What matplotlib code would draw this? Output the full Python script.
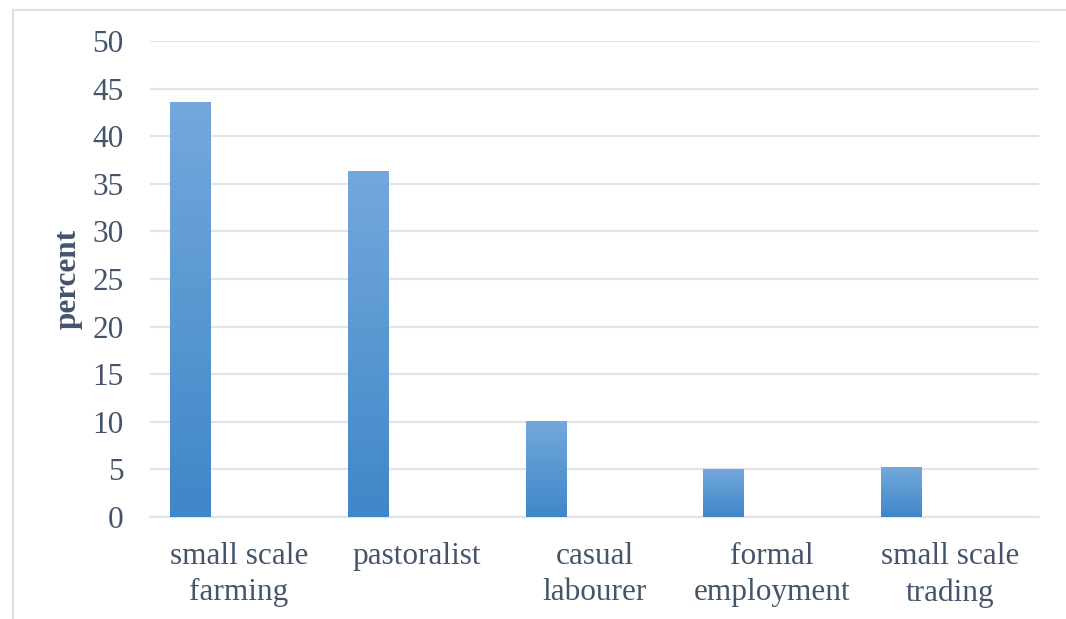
import numpy as np
import matplotlib.pyplot as plt
from matplotlib.colors import LinearSegmentedColormap
from matplotlib.lines import Line2D

categories = ['small scale\nfarming', 'pastoralist', 'casual\nlabourer',
              'formal\nemployment', 'small scale\ntrading']
values = [43.6, 36.3, 10.1, 5.05, 5.25]
yticks = [0, 5, 10, 15, 20, 25, 30, 35, 40, 45, 50]

text_color = '#44546a'
grid_color = '#e1e4e9'

plt.rcParams['font.family'] = ['Liberation Serif', 'DejaVu Serif']

fig = plt.figure(figsize=(10.66, 6.19), dpi=100)
ax = fig.add_axes([150 / 1066, 1 - 517 / 619, 889 / 1066, 476 / 619])

x = np.arange(len(categories))
# bars sit in the left part of each category slot (empty second series)
bars = ax.bar(x - 0.275, values, width=0.225, color='#5799d4', zorder=2)

# vertical gradient on each bar, lighter at top
cmap = LinearSegmentedColormap.from_list('bluegrad', ['#3f87c8', '#74a8dc'])
grad = np.linspace(0, 1, 256).reshape(-1, 1)
for b in bars:
    x0, y0 = b.get_x(), b.get_y()
    im = ax.imshow(grad, cmap=cmap, origin='lower', aspect='auto',
                   extent=(x0, x0 + b.get_width(), y0, y0 + b.get_height()),
                   zorder=3)
    im.set_clip_path(b)

ax.set_xlim(-0.5, len(categories) - 0.5)
ax.set_ylim(0, 50)
ax.set_yticks(yticks)
ax.set_xticks(x)
ax.set_xticklabels(categories, linespacing=1.33)

ax.grid(axis='y', color=grid_color, linewidth=1.6, zorder=0)
ax.set_axisbelow(True)
for s in ['top', 'right', 'left']:
    ax.spines[s].set_visible(False)
ax.spines['bottom'].set_color(grid_color)
ax.spines['bottom'].set_linewidth(1.6)

ax.tick_params(axis='both', length=0, labelsize=22.5, colors=text_color)
ax.tick_params(axis='y', pad=19)
ax.tick_params(axis='x', pad=18)
ax.set_ylabel('percent', fontsize=22.5, fontweight='bold', color=text_color,
              labelpad=7)

# outer chart border (only top and left fall inside the image)
fig.add_artist(Line2D([13 / 1066, 1], [1 - 10 / 619, 1 - 10 / 619],
                      transform=fig.transFigure, color='#dcdfe4', linewidth=1.5))
fig.add_artist(Line2D([13 / 1066, 13 / 1066], [0, 1 - 10 / 619],
                      transform=fig.transFigure, color='#dcdfe4', linewidth=1.5))

fig.savefig('out.png', dpi=100)
